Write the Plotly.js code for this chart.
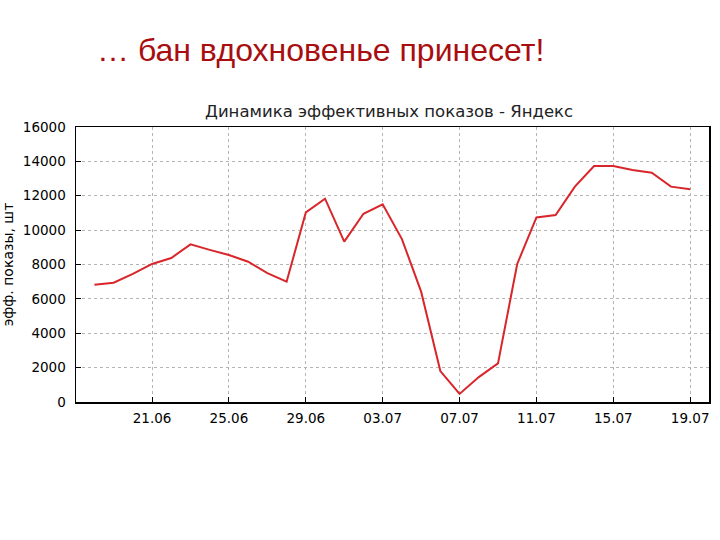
<!DOCTYPE html>
<html>
<head>
<meta charset="utf-8">
<script src="https://cdn.plot.ly/plotly-3.0.1.min.js"></script>
<style>html,body{margin:0;padding:0;background:#fff;}#chart{width:720px;height:540px;}</style>
</head>
<body>
<div id="chart"></div>
<script>
const dates = ["2013-06-18","2013-06-19","2013-06-20","2013-06-21","2013-06-22","2013-06-23","2013-06-24","2013-06-25","2013-06-26","2013-06-27","2013-06-28","2013-06-29","2013-06-30","2013-07-01","2013-07-02","2013-07-03","2013-07-04","2013-07-05","2013-07-06","2013-07-07","2013-07-08","2013-07-09","2013-07-10","2013-07-11","2013-07-12","2013-07-13","2013-07-14","2013-07-15","2013-07-16","2013-07-17","2013-07-18","2013-07-19"];
const shows = [6820,6940,7450,8030,8380,9170,8850,8550,8160,7500,7000,11030,11830,9330,10950,11500,9480,6420,1800,470,1450,2250,8030,10740,10880,12530,13730,13730,13500,13340,12530,12380];
const slideTitle = "… бан вдохновенье принесет!";
const chartTitle = "Динамика эффективных показов - Яндекс";
const yTitle = "эфф. показы, шт";
const yTicks = [0,2000,4000,6000,8000,10000,12000,14000,16000];

const trace = {
  x: dates, y: shows, type: "scatter", mode: "lines",
  line: {color: "#d8262b", width: 2},
  hoverinfo: "skip"
};
const layout = {
  width: 720, height: 540,
  margin: {l: 76, r: 11, t: 127, b: 138},
  paper_bgcolor: "#fff", plot_bgcolor: "#fff",
  showlegend: false,
  font: {family: "DejaVu Sans", size: 13.5, color: "#000"},
  xaxis: {
    type: "date",
    range: ["2013-06-17 01:00", "2013-07-19 23:30"],
    tick0: "2013-06-21", dtick: 4*86400000,
    tickformat: "%d.%m",
    showgrid: true, gridcolor: "#b4b4b4", griddash: "dot", gridwidth: 1,
    showline: true, linecolor: "#000", linewidth: 1.5, mirror: true,
    ticks: "inside", ticklen: 5, tickcolor: "#000",
    ticklabelstandoff: 3,
    zeroline: false, fixedrange: true
  },
  yaxis: {
    range: [0, 16000],
    tickvals: yTicks,
    tickformat: "d",
    showgrid: true, gridcolor: "#b4b4b4", griddash: "dot", gridwidth: 1,
    showline: true, linecolor: "#000", linewidth: 1.5, mirror: true,
    ticks: "inside", ticklen: 5, tickcolor: "#000",
    ticklabelstandoff: 6,
    zeroline: false, fixedrange: true,
    title: {text: yTitle, font: {family: "DejaVu Sans", size: 14, color: "#000"}, standoff: 6}
  },
  annotations: [
    {text: slideTitle, xref: "paper", yref: "paper", x: 0.386, y: 1.28, xanchor: "center", yanchor: "middle",
     showarrow: false, font: {family: "Arial, Liberation Sans, sans-serif", size: 32, color: "#a80e10"}},
    {text: chartTitle, xref: "paper", yref: "paper", x: 0.494, y: 1.058, xanchor: "center", yanchor: "middle",
     showarrow: false, font: {family: "DejaVu Sans", size: 16.5, color: "#222"}}
  ]
};
Plotly.newPlot("chart", [trace], layout, {displayModeBar: false, staticPlot: true});
</script>
</body>
</html>
